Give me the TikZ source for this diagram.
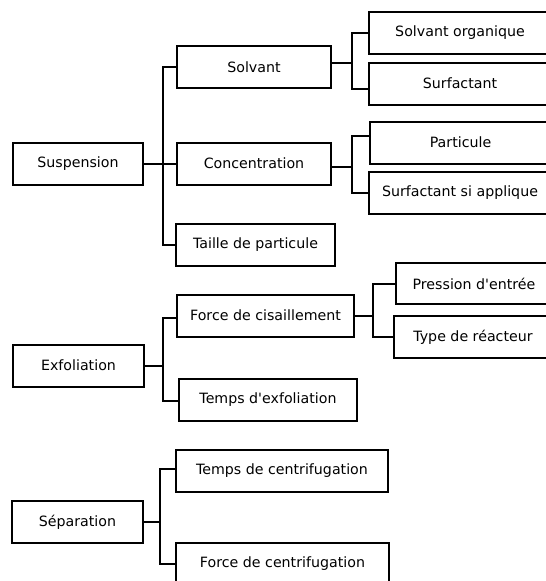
\documentclass[tikz,border=0pt]{standalone}
\usepackage{fontspec}
\setmainfont{DejaVu Sans}[Ligatures=TeXOff]
\begin{document}
\begin{tikzpicture}[x=1pt,y=-1pt,
  box/.style={draw, line width=2pt, inner sep=0pt, minimum height=42pt, font=\fontsize{14.2}{17}\selectfont},
  link/.style={line width=2pt}]
\useasboundingbox (0,0) rectangle (546,581);
\fill[white] (0,0) rectangle (546,581);
% level 1
\node[box, minimum width=130pt] (sus) at (78,163.5) {Suspension};
\node[box, minimum width=131pt] (exf) at (78.5,365.5) {Exfoliation};
\node[box, minimum width=131pt] (sep) at (77.5,522) {Séparation};
% level 2
\node[box, minimum width=154pt] (solv) at (254,67) {Solvant};
\node[box, minimum width=154pt] (conc) at (254,163.5) {Concentration};
\node[box, minimum width=159pt] (taille) at (255.5,245) {Taille de particule};
\node[box, minimum width=177pt] (force) at (265.5,315.5) {Force de cisaillement};
\node[box, minimum width=178pt] (tempsx) at (268,399.5) {Temps d'exfoliation};
\node[box, minimum width=212pt] (tc) at (282,470.5) {Temps de centrifugation};
\node[box, minimum width=213pt] (fc) at (282.5,564) {Force de centrifugation};
% level 3
\node[box, minimum width=182pt] (so) at (460,33) {Solvant organique};
\node[box, minimum width=182pt] (surf) at (460,83.5) {Surfactant};
\node[box, minimum width=181pt] (part) at (460.5,142.5) {Particule};
\node[box, minimum width=182pt] (surfsi) at (460,193) {Surfactant si applique};
\node[box, minimum width=156pt, minimum height=41pt] (press) at (474,283.5) {Pression d'entrée};
\node[box, minimum width=158pt] (type) at (473,337) {Type de réacteur};
% connectors: Suspension
\draw[link] (sus.east) -- (conc.west);
\draw[link] (solv.west) -- ++(-13,0) |- (taille.west);
% Solvant
\draw[link] (so.west) -- ++(-16,0) coordinate (sp1) |- ([yshift=-5.5pt]surf.west);
\draw[link] ([yshift=4pt]solv.east) -- ([yshift=4pt]solv.east -| sp1);
% Concentration
\draw[link] ([yshift=6.5pt]part.west) -- ++(-17,0) coordinate (sp2) |- (surfsi.west);
\draw[link] ([yshift=-3pt]conc.east) -- ([yshift=-3pt]conc.east -| sp2);
% Exfoliation
\draw[link] ([yshift=-2.5pt]force.west) -- ++(-13,0) coordinate (sp3) |- ([yshift=-1.5pt]tempsx.west);
\draw[link] (exf.east) -- (exf.east -| sp3);
% Force de cisaillement
\draw[link] (press.west) -- ++(-22,0) coordinate (sp4) |- (type.west);
\draw[link] (force.east) -- (force.east -| sp4);
% Separation
\draw[link] ([yshift=1.5pt]tc.west) -- ++(-15,0) coordinate (sp5) |- (fc.west);
\draw[link] (sep.east) -- (sep.east -| sp5);
\end{tikzpicture}
\end{document}
